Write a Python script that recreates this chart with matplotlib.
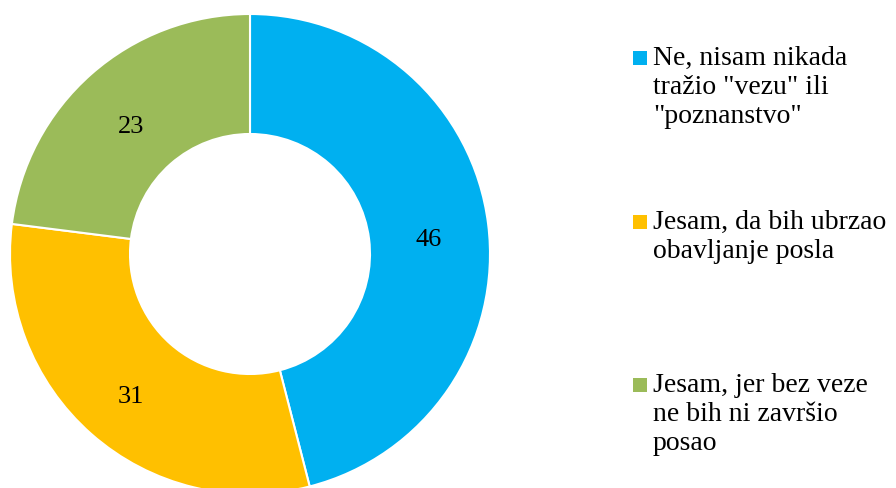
import numpy as np
import matplotlib.pyplot as plt
from matplotlib.patches import Rectangle

labels = ['Ne, nisam nikada\ntražio "vezu" ili\n"poznanstvo"',
          'Jesam, da bih ubrzao\nobavljanje posla',
          'Jesam, jer bez veze\nne bih ni završio\nposao']
values = [46, 31, 23]
colors = ['#00B0F0', '#FFC000', '#9BBB59']

plt.rcParams['font.family'] = ['Liberation Serif', 'DejaVu Serif']

W, H = 896, 489
fig = plt.figure(figsize=(W / 100, H / 100), dpi=100)

# donut axes in pixel terms: centre ~(250, 255), outer radius 240
cx, cy, r = 250, 255, 240
ax = fig.add_axes([(cx - r) / W, (H - cy - r) / H, 2 * r / W, 2 * r / H])
wedges, _ = ax.pie(values, colors=colors, startangle=90, counterclock=False,
                   radius=1.0,
                   wedgeprops=dict(width=0.5, edgecolor='white', linewidth=1.5))
ax.set_xlim(-1, 1)
ax.set_ylim(-1, 1)
ax.set_aspect('equal')

# value labels in the middle of the ring
for w, v in zip(wedges, values):
    mid = np.deg2rad((w.theta1 + w.theta2) / 2)
    ax.text(0.75 * np.cos(mid), 0.75 * np.sin(mid) - 0.03, str(v),
            ha='center', va='center', fontsize=19, color='black')

# legend entries
tops = [46, 210, 373]
for lab, col, top in zip(labels, colors, tops):
    fig.patches.append(Rectangle((633 / W, 1 - (top + 20) / H), 14 / W, 14 / H,
                                 transform=fig.transFigure, facecolor=col,
                                 edgecolor='none'))
    fig.text(653 / W, 1 - top / H, lab, ha='left', va='top', fontsize=20,
             linespacing=1.2, color='black')

fig.savefig('out.png', dpi=100)
